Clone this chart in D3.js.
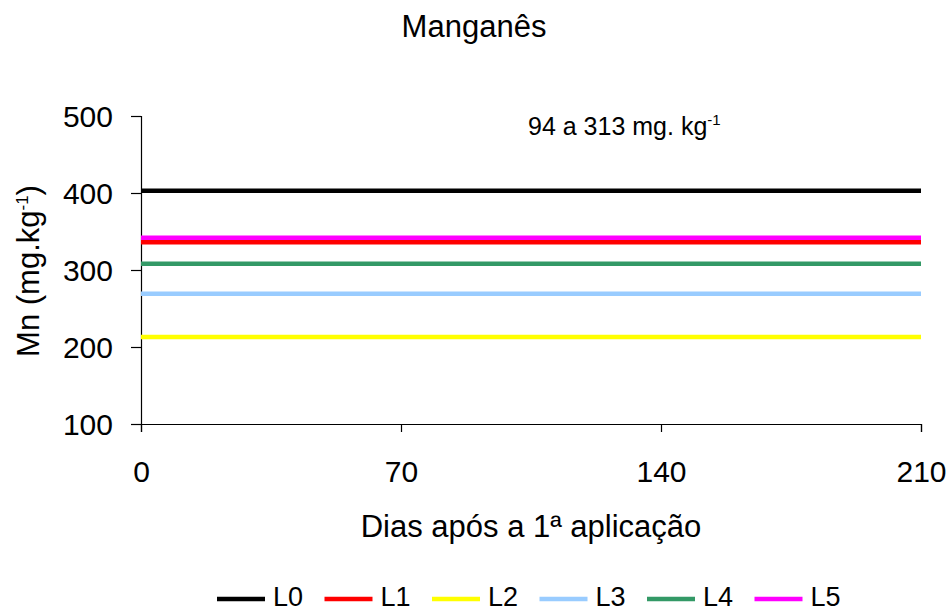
<!DOCTYPE html>
<html>
<head>
<meta charset="utf-8">
<script src="https://cdn.jsdelivr.net/npm/d3@7"></script>
<style>
  body { margin: 0; background: #fff; }
  text { font-family: "Liberation Sans", Arial, sans-serif; fill: #000; }
</style>
</head>
<body>
<script>
// data
var days = [0, 70, 140, 210]
var seriesNames = ["L0", "L1", "L2", "L3", "L4", "L5"]
var seriesColors = ["#000000", "#ff0000", "#ffff00", "#99ccff", "#339966", "#ff00ff"]
var L0 = [403, 403, 403, 403]
var L1 = [336, 336, 336, 336]
var L2 = [213, 213, 213, 213]
var L3 = [269, 269, 269, 269]
var L4 = [308, 308, 308, 308]
var L5 = [342, 342, 342, 342]
var yTicks = [100, 200, 300, 400, 500]
var xTicks = [0, 70, 140, 210]

var seriesValues = [L0, L1, L2, L3, L4, L5]
var series = seriesNames.map(function(n, i) {
  return { name: n, color: seriesColors[i], values: seriesValues[i] }
})

var width = 952, height = 612
var svg = d3.select("body").append("svg")
  .attr("width", width)
  .attr("height", height)

var x = d3.scaleLinear().domain([0, 210]).range([141, 921])
var y = d3.scaleLinear().domain([100, 500]).range([424, 116])

// title
svg.append("text")
  .attr("x", 474)
  .attr("y", 37)
  .attr("text-anchor", "middle")
  .style("font-size", "31px")
  .text("Manganês")

// y axis
var yAxis = svg.append("g")
  .attr("transform", "translate(141,0)")
  .call(d3.axisLeft(y).tickValues(yTicks).tickSize(10).tickPadding(18))
yAxis.selectAll("text").style("font-size", "30px").attr("dy", "0.36em")

// x axis
var xAxis = svg.append("g")
  .attr("transform", "translate(0,424)")
  .call(d3.axisBottom(x).tickValues(xTicks).tickSize(8).tickPadding(29))
xAxis.selectAll("text").style("font-size", "30px")

svg.selectAll(".domain, .tick line")
  .attr("stroke", "#000")
  .attr("stroke-width", 1.2)

// axis titles
svg.append("text")
  .attr("x", 531)
  .attr("y", 537)
  .attr("text-anchor", "middle")
  .style("font-size", "31px")
  .text("Dias após a 1ª aplicação")

var yTitle = svg.append("text")
  .attr("transform", "translate(39,271) rotate(-90)")
  .attr("text-anchor", "middle")
  .style("font-size", "31px")
yTitle.append("tspan").text("Mn (mg.kg")
yTitle.append("tspan").attr("dy", "-11").style("font-size", "17px").text("-1")
yTitle.append("tspan").attr("dy", "11").text(")")

// annotation
var note = svg.append("text")
  .attr("x", 528)
  .attr("y", 135)
  .style("font-size", "25px")
note.append("tspan").text("94 a 313 mg. kg")
note.append("tspan").attr("dy", "-10").style("font-size", "15px").text("-1")

// lines
var line = d3.line()
  .x(function(d, i) { return x(days[i]) })
  .y(function(d) { return y(d) })

var drawOrder = [2, 3, 4, 1, 5, 0]
svg.selectAll("path.series")
  .data(drawOrder.map(function(i) { return series[i] }))
  .enter().append("path")
  .attr("class", "series")
  .attr("fill", "none")
  .attr("stroke", function(d) { return d.color })
  .attr("stroke-width", 4.5)
  .attr("d", function(d) { return line(d.values) })

// legend
var legend = svg.selectAll("g.legend")
  .data(series)
  .enter().append("g")
  .attr("class", "legend")
  .attr("transform", function(d, i) { return "translate(" + (217 + i * 107.5) + ",599)" })

legend.append("line")
  .attr("x1", 0)
  .attr("x2", 48)
  .attr("stroke", function(d) { return d.color })
  .attr("stroke-width", 4.5)

legend.append("text")
  .attr("x", 56)
  .attr("y", 7)
  .style("font-size", "27px")
  .text(function(d) { return d.name })
</script>
</body>
</html>
